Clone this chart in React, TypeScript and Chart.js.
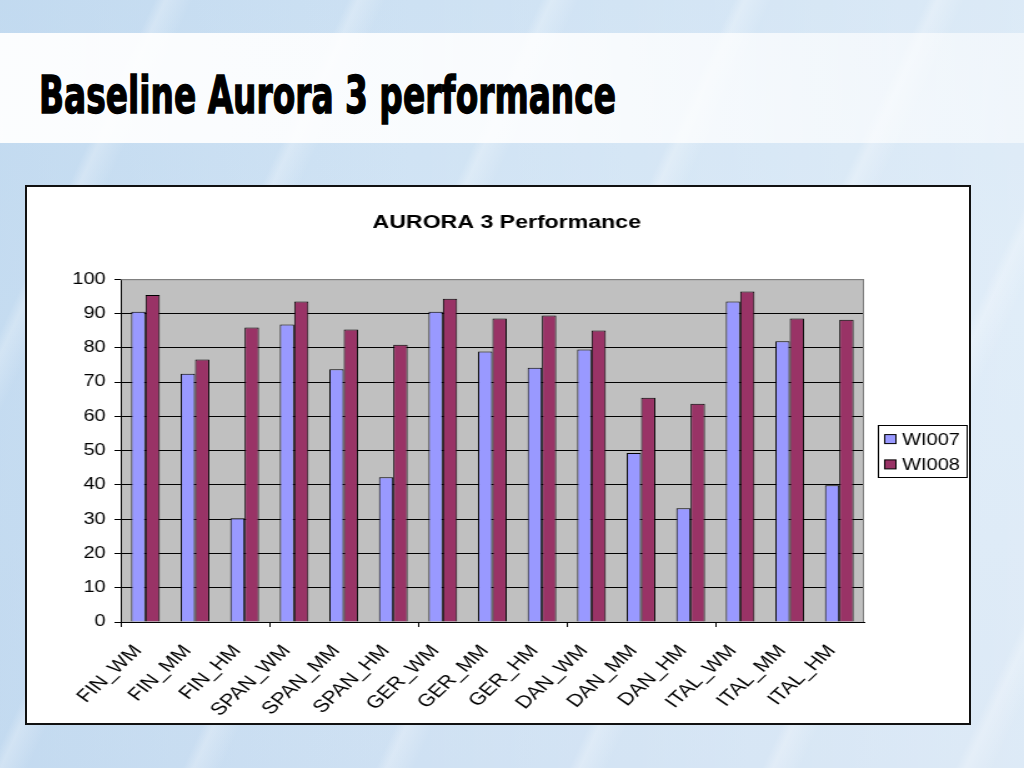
import React, { useEffect, useRef } from "react";
import { Chart, registerables } from "chart.js";

Chart.register(...registerables);

const categories = [
  "FIN_WM", "FIN_MM", "FIN_HM",
  "SPAN_WM", "SPAN_MM", "SPAN_HM",
  "GER_WM", "GER_MM", "GER_HM",
  "DAN_WM", "DAN_MM", "DAN_HM",
  "ITAL_WM", "ITAL_MM", "ITAL_HM",
];
const wi007 = [90.5, 72.4, 30.3, 86.8, 73.7, 42.2, 90.5, 78.9, 74.2, 79.5, 49.3, 33.2, 93.5, 81.9, 39.9];
const wi008 = [95.4, 76.6, 85.9, 93.5, 85.3, 80.9, 94.3, 88.5, 89.4, 85.0, 65.4, 63.7, 96.4, 88.5, 88.2];
const seriesNames = ["WI007", "WI008"];
const seriesColors = ["#9999FF", "#993366"];
const yMin = 0;
const yMax = 100;
const yStep = 10;
const chartTitle = "AURORA 3 Performance";
const slideTitle = "Baseline Aurora 3 performance";

const FONT = "'Liberation Sans', Arial, sans-serif";
const CW = 754;
const CH = 536;
const SX = 942 / CW;

const plotBgPlugin = {
  id: "plotBg",
  beforeDraw(chart: any) {
    const { ctx, chartArea: a } = chart;
    ctx.save();
    ctx.fillStyle = "#C0C0C0";
    ctx.fillRect(a.left, a.top, a.right - a.left, a.bottom - a.top);
    ctx.restore();
  },
  afterDraw(chart: any) {
    const { ctx, chartArea: a } = chart;
    ctx.save();
    ctx.strokeStyle = "#808080";
    ctx.lineWidth = 1;
    ctx.beginPath();
    ctx.moveTo(a.left, a.top + 0.5);
    ctx.lineTo(a.right - 0.5, a.top + 0.5);
    ctx.lineTo(a.right - 0.5, a.bottom);
    ctx.stroke();
    ctx.restore();
  },
};

const boxLegendPlugin = {
  id: "boxLegend",
  afterDraw(chart: any) {
    const { ctx, chartArea: a } = chart;
    const left = a.right + 10.5;
    const width = 71;
    const height = 52;
    const midY = (a.top + a.bottom) / 2;
    const top = midY - height / 2;
    ctx.save();
    ctx.strokeStyle = "#000";
    ctx.lineWidth = 1;
    ctx.strokeRect(Math.round(left) + 0.5, Math.round(top) + 0.5, width, height);
    ctx.font = `16px ${FONT}`;
    ctx.textBaseline = "middle";
    ctx.textAlign = "left";
    chart.data.datasets.forEach((ds: any, i: number) => {
      const cy = top + 14.5 + i * 25.3;
      ctx.fillStyle = ds.backgroundColor;
      ctx.fillRect(left + 6, cy - 4.5, 9, 9);
      ctx.strokeStyle = "#000";
      ctx.strokeRect(left + 6, cy - 4.5, 9, 9);
      ctx.fillStyle = "#000";
      ctx.fillText(ds.label, left + 20, cy + 1);
    });
    ctx.restore();
  },
};

function AuroraChart() {
  const ref = useRef<HTMLCanvasElement | null>(null);
  useEffect(() => {
    if (!ref.current) return;
    const chart = new Chart(ref.current, {
      type: "bar",
      data: {
        labels: categories,
        datasets: [
          {
            label: seriesNames[0],
            data: wi007,
            backgroundColor: seriesColors[0],
            borderColor: "#000",
            borderWidth: 1,
            yAxisID: "y",
          },
          {
            label: seriesNames[1],
            data: wi008,
            backgroundColor: seriesColors[1],
            borderColor: "#000",
            borderWidth: 1,
            yAxisID: "y",
          },
        ],
      },
      options: {
        responsive: false,
        animation: false,
        devicePixelRatio: 1,
        layout: { padding: { left: 14, right: 0, top: 0, bottom: 0 } },
        datasets: { bar: { categoryPercentage: 0.578, barPercentage: 1.0 } },
        plugins: {
          legend: { display: false },
          tooltip: { enabled: false },
          title: {
            display: true,
            text: chartTitle,
            color: "#000",
            font: { family: FONT, size: 18.5, weight: "bold" },
            padding: { top: 25, bottom: 45 },
          },
        },
        scales: {
          x: {
            type: "category",
            offset: true,
            grid: {
              display: true,
              drawOnChartArea: false,
              drawTicks: true,
              tickLength: 5,
              offset: true,
              color: (c: any) => (c.index % 3 === 0 ? "#000" : "rgba(0,0,0,0)"),
            },
            border: { display: true, color: "#000", width: 1 },
            ticks: {
              autoSkip: false,
              maxRotation: 49,
              minRotation: 49,
              color: "#000",
              padding: 14,
              labelOffset: -6,
              font: { family: FONT, size: 17.5 },
            },
            afterFit: (s: any) => {
              s.height = 101;
            },
          },
          y: {
            type: "linear",
            position: "left",
            min: yMin,
            max: yMax,
            ticks: {
              stepSize: yStep,
              color: "#000",
              padding: 7,
              font: { family: FONT, size: 16 },
            },
            grid: {
              color: (c: any) => (c.tick && c.tick.value === yMax ? "#808080" : "#000"),
              tickColor: "#000",
              tickLength: 5,
            },
            border: { display: true, color: "#000", width: 1 },
            afterFit: (s: any) => {
              s.width = 61;
            },
          },
          yRight: {
            type: "linear",
            position: "right",
            min: yMin,
            max: yMax,
            grid: { display: false },
            ticks: { display: false },
            border: { display: false },
            afterFit: (s: any) => {
              s.width = 84;
            },
          },
        },
      },
      plugins: [plotBgPlugin, boxLegendPlugin],
    } as any);
    return () => chart.destroy();
  }, []);
  return (
    <canvas
      ref={ref}
      width={CW}
      height={CH}
      style={{
        position: "absolute",
        left: 0,
        top: 0,
        width: CW,
        height: CH,
        transform: `scaleX(${SX})`,
        transformOrigin: "0 0",
      }}
    />
  );
}

export default function App() {
  return (
    <div
      style={{
        position: "fixed",
        left: 0,
        top: 0,
        width: 1024,
        height: 768,
        overflow: "hidden",
        background:
          "linear-gradient(180deg, #cde1f3 0%, #d3e5f5 40%, #cfe1f3 100%)",
      }}
    >
      <div
        style={{
          position: "absolute",
          inset: 0,
          background:
            "linear-gradient(90deg, rgba(185,212,237,0.55) 0%, rgba(255,255,255,0) 40%, rgba(255,255,255,0.3) 100%)",
        }}
      />
      <div
        style={{
          position: "absolute",
          inset: 0,
          background:
            "repeating-linear-gradient(115deg, rgba(255,255,255,0) 0px, rgba(255,255,255,0) 140px, rgba(255,255,255,0.25) 150px, rgba(255,255,255,0) 175px)",
        }}
      />
      <div
        style={{
          position: "absolute",
          left: 0,
          top: 33,
          width: 1024,
          height: 110,
          background:
            "linear-gradient(90deg, rgba(255,255,255,0.94) 0%, rgba(255,255,255,0.86) 55%, rgba(255,255,255,0.55) 100%)",
        }}
      />
      <svg
        width={1024}
        height={160}
        style={{ position: "absolute", left: 0, top: 0 }}
      >
        <text
          x={39}
          y={112.5}
          fontFamily="'Liberation Sans Narrow', 'DejaVu Sans Condensed', 'Liberation Sans', sans-serif"
          fontWeight="bold"
          fontSize={51}
          fill="#000"
          stroke="#000"
          strokeWidth={1.3}
          textLength={577}
          lengthAdjust="spacingAndGlyphs"
        >
          {slideTitle}
        </text>
      </svg>
      <div
        style={{
          position: "absolute",
          left: 25,
          top: 185,
          width: 946,
          height: 540,
          boxSizing: "border-box",
          border: "2px solid #111",
          background: "#fff",
          overflow: "hidden",
        }}
      >
        <AuroraChart />
      </div>
    </div>
  );
}
